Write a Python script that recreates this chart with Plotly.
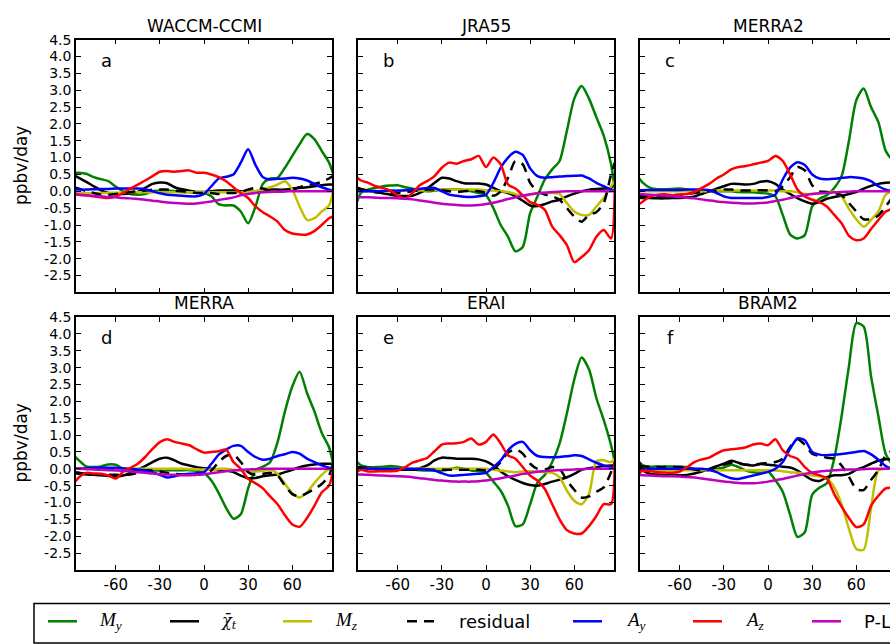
import plotly.graph_objects as go

# Latitude grid (degrees north) shared by every curve
LAT = [-87.5, -85, -80, -75, -70, -65, -60, -55, -50, -45, -40, -35, -30, -25, -20,
       -15, -10, -5, 0, 5, 10, 15, 20, 25, 30, 35, 40, 45, 50, 55, 60, 65, 70, 75,
       80, 85, 87.5]

# ---- WACCM-CCMI ----
MY_A = [0.55, 0.55, 0.52, 0.42, 0.36, 0.30, 0.14, 0.00, -0.08, -0.10, -0.08, 0.00, 0.02, 0.02, 0.00, -0.02, -0.03, -0.04, -0.05, -0.15, -0.38, -0.42, -0.42, -0.60, -0.95, -0.45, 0.22, 0.38, 0.40, 0.70, 1.05, 1.40, 1.70, 1.55, 1.20, 0.85, 0.55]
CHI_A = [0.45, 0.40, 0.28, 0.15, 0.03, -0.05, -0.08, -0.08, -0.06, -0.02, 0.10, 0.22, 0.26, 0.24, 0.12, 0.06, 0.02, -0.02, -0.02, 0.00, 0.02, 0.02, 0.02, 0.00, -0.02, 0.00, 0.02, 0.05, 0.05, 0.05, 0.08, 0.10, 0.12, 0.15, 0.18, 0.20, 0.20]
MZ_A = [-0.05, -0.05, -0.05, -0.05, -0.05, -0.05, -0.04, -0.04, -0.03, -0.03, -0.03, -0.03, -0.03, -0.03, -0.03, -0.03, -0.03, -0.03, -0.03, -0.03, -0.03, -0.03, -0.03, -0.03, -0.02, 0.00, 0.05, 0.12, 0.20, 0.30, 0.05, -0.45, -0.85, -0.80, -0.60, -0.42, -0.05]
RES_A = [0.10, 0.08, 0.00, -0.05, -0.10, -0.10, -0.08, -0.05, -0.02, 0.00, 0.02, 0.05, 0.05, 0.05, 0.02, 0.00, -0.02, -0.05, -0.05, -0.05, -0.08, -0.05, -0.05, -0.02, 0.05, 0.10, 0.08, 0.02, 0.00, 0.00, 0.05, 0.12, 0.18, 0.22, 0.28, 0.38, 0.45]
AY_A = [0.05, 0.05, 0.05, 0.06, 0.07, 0.07, 0.08, 0.08, 0.08, 0.08, 0.06, 0.00, -0.06, -0.10, -0.12, -0.13, -0.15, -0.15, -0.08, 0.15, 0.38, 0.43, 0.50, 0.85, 1.25, 0.78, 0.42, 0.35, 0.37, 0.38, 0.40, 0.38, 0.32, 0.22, 0.12, 0.05, 0.03]
AZ_A = [-0.08, -0.10, -0.12, -0.15, -0.18, -0.20, -0.15, -0.05, 0.08, 0.20, 0.32, 0.45, 0.58, 0.60, 0.58, 0.60, 0.62, 0.55, 0.55, 0.50, 0.42, 0.30, 0.12, -0.05, -0.20, -0.45, -0.62, -0.75, -0.90, -1.15, -1.25, -1.28, -1.28, -1.18, -1.00, -0.80, -0.75]
PL_A = [-0.10, -0.10, -0.12, -0.14, -0.15, -0.17, -0.18, -0.20, -0.21, -0.23, -0.25, -0.28, -0.30, -0.33, -0.35, -0.36, -0.37, -0.36, -0.33, -0.30, -0.26, -0.22, -0.18, -0.12, -0.08, -0.05, -0.03, -0.02, -0.01, 0.00, 0.00, 0.00, 0.00, 0.00, 0.00, 0.00, 0.00]

# ---- JRA55 ----
MY_B = [-0.30, -0.05, 0.05, 0.10, 0.15, 0.17, 0.18, 0.12, 0.08, 0.03, 0.00, 0.02, 0.05, 0.06, 0.06, 0.04, 0.00, -0.05, -0.12, -0.50, -1.00, -1.35, -1.78, -1.65, -0.65, -0.15, 0.35, 0.65, 0.90, 1.80, 2.75, 3.12, 2.75, 2.20, 1.65, 0.80, 0.05]
CHI_B = [0.10, 0.07, 0.02, -0.02, -0.06, -0.10, -0.13, -0.14, -0.13, -0.05, 0.08, 0.25, 0.40, 0.38, 0.30, 0.24, 0.23, 0.23, 0.20, 0.10, 0.00, -0.05, -0.15, -0.28, -0.42, -0.44, -0.38, -0.30, -0.25, -0.15, -0.07, 0.00, 0.05, 0.07, 0.08, 0.10, 0.30]
MZ_B = [0.00, 0.00, 0.00, 0.00, 0.00, 0.00, 0.00, 0.02, 0.02, 0.02, 0.03, 0.04, 0.05, 0.05, 0.05, 0.05, 0.05, 0.05, 0.03, 0.02, 0.00, -0.02, -0.08, -0.13, -0.10, -0.05, -0.05, -0.05, -0.08, -0.35, -0.60, -0.70, -0.70, -0.45, -0.20, 0.15, 0.30]
RES_B = [0.10, 0.05, 0.00, -0.03, -0.05, -0.05, -0.05, -0.03, 0.00, 0.03, 0.05, 0.05, 0.03, 0.00, -0.02, 0.00, 0.02, 0.00, -0.05, -0.13, 0.00, 0.40, 0.90, 0.80, 0.25, 0.00, -0.10, -0.15, -0.25, -0.50, -0.75, -0.90, -0.70, -0.62, -0.35, 0.50, 0.85]
AY_B = [0.00, 0.00, 0.00, 0.00, 0.01, 0.02, 0.02, 0.03, 0.05, 0.07, 0.10, 0.10, 0.00, -0.10, -0.13, -0.16, -0.17, -0.15, -0.10, 0.25, 0.70, 1.00, 1.17, 1.08, 0.68, 0.45, 0.40, 0.42, 0.44, 0.45, 0.46, 0.47, 0.38, 0.25, 0.15, 0.05, 0.00]
AZ_B = [0.40, 0.32, 0.25, 0.15, 0.10, 0.02, -0.12, -0.22, -0.05, 0.18, 0.30, 0.45, 0.70, 0.85, 0.82, 0.90, 0.95, 1.05, 0.72, 1.00, 0.80, 0.20, 0.08, -0.12, -0.32, -0.40, -0.55, -1.05, -1.30, -1.60, -2.10, -1.95, -1.75, -1.35, -1.15, -1.40, 0.00]
PL_B = [-0.18, -0.18, -0.18, -0.19, -0.20, -0.20, -0.21, -0.22, -0.24, -0.27, -0.30, -0.34, -0.37, -0.39, -0.41, -0.42, -0.42, -0.41, -0.38, -0.34, -0.29, -0.23, -0.18, -0.13, -0.09, -0.06, -0.04, -0.02, -0.01, 0.00, 0.00, 0.00, 0.00, 0.00, 0.00, 0.00, 0.00]

# ---- MERRA2 ----
MY_C = [0.38, 0.25, 0.10, 0.06, 0.06, 0.07, 0.08, 0.05, 0.02, 0.00, 0.00, 0.00, 0.00, 0.00, -0.02, -0.03, -0.03, -0.05, -0.07, -0.15, -0.70, -1.28, -1.40, -1.30, -0.45, -0.22, -0.12, 0.10, 0.45, 1.50, 2.70, 3.05, 2.50, 2.05, 1.20, 0.90, 0.80]
CHI_C = [-0.20, -0.20, -0.20, -0.21, -0.21, -0.20, -0.20, -0.18, -0.15, -0.08, 0.00, 0.08, 0.15, 0.22, 0.22, 0.20, 0.22, 0.28, 0.30, 0.22, 0.05, -0.08, -0.20, -0.30, -0.37, -0.32, -0.22, -0.17, -0.13, -0.08, -0.02, 0.08, 0.16, 0.22, 0.25, 0.26, 0.26]
MZ_C = [0.00, 0.00, 0.00, 0.00, 0.00, 0.00, 0.00, 0.00, 0.00, 0.00, 0.00, 0.02, 0.02, 0.02, 0.02, 0.02, 0.02, 0.02, 0.02, 0.02, 0.00, 0.00, -0.03, -0.08, -0.08, -0.06, -0.03, -0.02, -0.15, -0.52, -0.83, -1.05, -0.85, -0.60, -0.10, 0.00, 0.00]
RES_C = [-0.12, -0.15, -0.17, -0.17, -0.15, -0.12, -0.10, -0.08, -0.05, -0.02, 0.00, 0.02, 0.05, 0.05, 0.03, 0.02, 0.03, 0.03, 0.02, 0.00, 0.15, 0.42, 0.72, 0.62, 0.18, 0.00, -0.02, -0.05, -0.12, -0.35, -0.60, -0.83, -0.82, -0.72, -0.45, -0.15, 0.00]
AY_C = [0.03, 0.03, 0.04, 0.04, 0.04, 0.04, 0.04, 0.05, 0.05, 0.05, 0.03, -0.05, -0.15, -0.20, -0.20, -0.20, -0.20, -0.20, -0.17, -0.10, 0.35, 0.70, 0.86, 0.78, 0.50, 0.38, 0.36, 0.37, 0.40, 0.42, 0.41, 0.38, 0.30, 0.15, 0.05, 0.00, 0.00]
AZ_C = [-0.38, -0.30, -0.15, -0.10, -0.09, -0.12, -0.10, -0.08, -0.02, 0.10, 0.22, 0.38, 0.50, 0.65, 0.72, 0.75, 0.80, 0.85, 0.90, 1.05, 0.90, 0.50, 0.05, -0.15, -0.25, -0.32, -0.45, -0.70, -0.95, -1.32, -1.45, -1.40, -1.12, -0.85, -0.60, -0.50, -0.40]
PL_C = [-0.08, -0.09, -0.10, -0.12, -0.13, -0.15, -0.17, -0.19, -0.21, -0.24, -0.27, -0.30, -0.32, -0.34, -0.35, -0.36, -0.36, -0.35, -0.33, -0.29, -0.25, -0.20, -0.15, -0.11, -0.08, -0.06, -0.04, -0.03, -0.02, -0.01, 0.00, 0.00, 0.00, 0.00, 0.00, 0.00, 0.00]

# ---- MERRA ----
MY_D = [0.35, 0.25, 0.07, 0.05, 0.07, 0.13, 0.12, 0.00, -0.06, -0.07, -0.06, -0.05, -0.05, -0.04, -0.04, -0.04, -0.04, -0.06, -0.12, -0.35, -0.72, -1.16, -1.48, -1.35, -0.58, -0.04, 0.06, 0.20, 0.79, 1.70, 2.44, 2.88, 2.25, 1.71, 1.07, 0.64, 0.20]
CHI_D = [-0.14, -0.15, -0.17, -0.18, -0.19, -0.21, -0.23, -0.20, -0.12, -0.02, 0.08, 0.20, 0.30, 0.33, 0.25, 0.15, 0.10, 0.05, 0.02, 0.00, -0.02, -0.05, -0.10, -0.20, -0.28, -0.27, -0.22, -0.19, -0.17, -0.10, -0.03, 0.05, 0.10, 0.13, 0.15, 0.15, 0.15]
MZ_D = [0.00, 0.00, 0.00, 0.00, 0.00, 0.00, 0.00, 0.00, 0.00, 0.00, 0.00, 0.00, 0.00, 0.00, 0.00, 0.00, -0.01, -0.02, -0.02, -0.02, 0.00, 0.00, -0.03, -0.06, -0.08, -0.08, -0.06, -0.02, -0.15, -0.45, -0.72, -0.85, -0.70, -0.42, -0.18, 0.00, 0.02]
RES_D = [-0.10, -0.12, -0.15, -0.17, -0.18, -0.18, -0.18, -0.18, -0.17, -0.12, -0.05, -0.05, -0.08, -0.12, -0.15, -0.17, -0.18, -0.18, -0.15, -0.05, 0.20, 0.38, 0.42, 0.20, -0.10, -0.18, -0.15, -0.12, -0.20, -0.50, -0.75, -0.82, -0.72, -0.60, -0.45, -0.20, 0.15]
AY_D = [0.00, 0.00, 0.02, 0.03, 0.03, 0.03, 0.03, 0.02, 0.00, -0.02, -0.05, -0.10, -0.18, -0.26, -0.22, -0.17, -0.15, -0.13, -0.10, 0.15, 0.42, 0.57, 0.68, 0.68, 0.50, 0.35, 0.27, 0.30, 0.38, 0.43, 0.50, 0.45, 0.30, 0.20, 0.10, 0.03, 0.00]
AZ_D = [-0.38, -0.25, -0.12, -0.14, -0.15, -0.20, -0.29, -0.09, 0.03, 0.15, 0.35, 0.59, 0.79, 0.88, 0.80, 0.75, 0.70, 0.58, 0.48, 0.50, 0.52, 0.57, 0.20, 0.00, -0.30, -0.43, -0.58, -0.82, -1.05, -1.38, -1.65, -1.72, -1.46, -1.10, -0.70, -0.50, -0.10]
PL_D = [0.00, 0.00, -0.01, -0.02, -0.03, -0.04, -0.05, -0.06, -0.08, -0.10, -0.12, -0.14, -0.16, -0.17, -0.18, -0.19, -0.19, -0.18, -0.16, -0.13, -0.10, -0.07, -0.05, -0.03, -0.02, -0.01, 0.00, 0.00, 0.00, 0.00, 0.00, 0.00, 0.00, 0.00, 0.00, 0.00, 0.00]

# ---- ERAI ----
MY_E = [0.20, 0.10, 0.05, 0.05, 0.06, 0.08, 0.06, 0.02, -0.02, -0.04, -0.05, -0.05, -0.05, -0.02, 0.03, 0.00, -0.05, -0.07, -0.12, -0.38, -0.65, -1.10, -1.70, -1.65, -1.05, -0.40, -0.18, 0.20, 0.75, 1.65, 2.65, 3.30, 2.95, 2.10, 1.45, 0.70, 0.20]
CHI_E = [0.05, 0.04, 0.03, 0.02, 0.00, 0.00, -0.02, -0.03, -0.02, 0.02, 0.10, 0.25, 0.33, 0.32, 0.30, 0.30, 0.30, 0.28, 0.22, 0.10, -0.08, -0.22, -0.33, -0.42, -0.48, -0.50, -0.45, -0.38, -0.32, -0.25, -0.15, -0.03, 0.02, 0.05, 0.08, 0.10, 0.10]
MZ_E = [0.00, 0.00, 0.00, 0.00, 0.00, 0.00, 0.00, 0.00, 0.00, 0.00, 0.00, 0.00, 0.00, 0.00, 0.00, 0.00, 0.00, 0.00, 0.00, -0.03, -0.05, -0.08, -0.10, -0.08, -0.07, -0.08, -0.10, -0.12, -0.25, -0.65, -0.95, -1.05, -0.75, 0.22, 0.25, 0.20, 0.30]
RES_E = [0.05, 0.03, 0.00, -0.02, -0.03, -0.03, -0.03, -0.03, -0.03, -0.03, -0.03, -0.03, -0.03, -0.03, -0.03, -0.03, -0.03, -0.03, -0.05, 0.00, 0.20, 0.48, 0.58, 0.45, 0.15, 0.00, -0.02, 0.05, 0.00, -0.35, -0.62, -0.85, -0.82, -0.68, -0.55, -0.10, 0.20]
AY_E = [0.00, 0.00, 0.00, 0.00, 0.00, 0.00, 0.00, 0.00, 0.00, -0.01, -0.02, -0.05, -0.13, -0.20, -0.20, -0.18, -0.16, -0.15, -0.12, 0.05, 0.25, 0.55, 0.74, 0.80, 0.55, 0.38, 0.35, 0.34, 0.35, 0.37, 0.40, 0.38, 0.28, 0.18, 0.10, 0.05, 0.02]
AZ_E = [-0.09, -0.03, -0.08, -0.08, -0.07, -0.07, -0.05, 0.05, 0.18, 0.25, 0.32, 0.52, 0.72, 0.75, 0.76, 0.80, 0.90, 0.72, 0.80, 1.02, 0.75, 0.40, 0.30, 0.05, -0.20, -0.35, -0.60, -1.05, -1.50, -1.82, -1.92, -1.92, -1.70, -1.40, -1.05, -1.05, 0.20]
PL_E = [-0.17, -0.17, -0.18, -0.19, -0.20, -0.21, -0.22, -0.23, -0.25, -0.28, -0.30, -0.33, -0.35, -0.37, -0.38, -0.38, -0.38, -0.37, -0.35, -0.32, -0.28, -0.24, -0.20, -0.15, -0.12, -0.09, -0.07, -0.05, -0.04, -0.03, -0.02, -0.01, 0.00, 0.00, 0.00, 0.00, 0.00]

# ---- BRAM2 ----
MY_F = [0.20, 0.10, 0.06, 0.07, 0.07, 0.07, 0.06, 0.05, 0.00, -0.04, -0.04, 0.00, 0.04, 0.12, 0.05, -0.05, -0.10, -0.12, -0.08, -0.34, -0.68, -1.36, -2.02, -1.88, -0.77, -0.56, -0.43, 0.30, 1.56, 3.05, 4.32, 4.22, 2.75, 1.56, 0.44, 0.10, 0.00]
CHI_F = [0.20, -0.05, -0.15, -0.17, -0.19, -0.19, -0.19, -0.18, -0.14, -0.08, 0.00, 0.08, 0.15, 0.24, 0.18, 0.12, 0.10, 0.14, 0.12, 0.10, 0.06, 0.04, -0.05, -0.20, -0.33, -0.36, -0.25, -0.19, -0.19, -0.15, -0.03, 0.05, 0.15, 0.24, 0.28, 0.28, 0.28]
MZ_F = [-0.05, -0.05, -0.05, -0.04, -0.04, -0.04, -0.04, -0.04, -0.04, -0.04, -0.04, -0.04, -0.04, -0.04, -0.04, -0.04, -0.04, -0.04, -0.05, -0.05, -0.07, -0.10, -0.12, -0.15, -0.20, -0.22, -0.29, -0.55, -1.05, -1.78, -2.38, -2.40, -1.17, -0.05, 0.00, 0.00, 0.00]
RES_F = [0.08, 0.07, 0.06, 0.05, 0.05, 0.05, 0.05, 0.03, -0.02, -0.05, -0.03, 0.05, 0.12, 0.18, 0.15, 0.12, 0.13, 0.15, 0.18, 0.20, 0.30, 0.65, 0.88, 0.72, 0.45, 0.38, 0.33, 0.30, 0.10, -0.24, -0.60, -0.63, -0.33, -0.04, 0.40, 0.55, 0.60]
AY_F = [-0.05, -0.03, 0.00, 0.00, 0.00, 0.00, 0.00, 0.00, 0.00, 0.00, -0.03, -0.10, -0.20, -0.28, -0.30, -0.25, -0.20, -0.15, -0.09, 0.00, 0.20, 0.59, 0.90, 0.85, 0.50, 0.42, 0.40, 0.42, 0.44, 0.47, 0.50, 0.53, 0.43, 0.27, 0.08, 0.00, 0.00]
AZ_F = [-0.14, -0.05, -0.07, -0.10, -0.11, -0.12, -0.08, 0.05, 0.20, 0.28, 0.33, 0.45, 0.55, 0.58, 0.60, 0.64, 0.72, 0.75, 0.70, 0.88, 0.55, 0.38, 0.30, 0.05, -0.12, -0.19, -0.29, -0.75, -1.12, -1.46, -1.73, -1.65, -1.10, -0.80, -0.58, -0.55, -0.50]
PL_F = [-0.18, -0.19, -0.20, -0.21, -0.22, -0.22, -0.23, -0.24, -0.26, -0.29, -0.32, -0.35, -0.38, -0.40, -0.42, -0.43, -0.43, -0.41, -0.38, -0.34, -0.30, -0.25, -0.20, -0.15, -0.11, -0.08, -0.06, -0.04, -0.03, -0.02, -0.02, -0.01, 0.00, 0.00, 0.00, 0.00, 0.00]

PANEL_TITLES = ["WACCM-CCMI", "JRA55", "MERRA2", "MERRA", "ERAI", "BRAM2"]
PANEL_LETTERS = ["a", "b", "c", "d", "e", "f"]
PANEL_DATA = [
    [MY_A, CHI_A, MZ_A, RES_A, AY_A, AZ_A, PL_A],
    [MY_B, CHI_B, MZ_B, RES_B, AY_B, AZ_B, PL_B],
    [MY_C, CHI_C, MZ_C, RES_C, AY_C, AZ_C, PL_C],
    [MY_D, CHI_D, MZ_D, RES_D, AY_D, AZ_D, PL_D],
    [MY_E, CHI_E, MZ_E, RES_E, AY_E, AZ_E, PL_E],
    [MY_F, CHI_F, MZ_F, RES_F, AY_F, AZ_F, PL_F],
]

SERIES_LABELS = ["<i>M<sub>y</sub></i>", "<i>\u03c7\u0304<sub>t</sub></i>", "<i>M<sub>z</sub></i>",
                 "residual", "<i>A<sub>y</sub></i>", "<i>A<sub>z</sub></i>", "P-L"]
SERIES_FONT = ["Liberation Serif", "DejaVu Serif", "Liberation Serif", "DejaVu Sans",
               "Liberation Serif", "Liberation Serif", "DejaVu Sans"]
SERIES_FONT_SIZE = [19, 16, 19, 18, 19, 19, 18]
SERIES_COLORS = ["#008000", "#000000", "#bfbf00", "#000000", "#0000ff", "#ff0000", "#bf00bf"]
SERIES_DASH = ["solid", "solid", "solid", "10px,7px", "solid", "solid", "solid"]

Y_TICKS = [-2.5, -2.0, -1.5, -1.0, -0.5, 0.0, 0.5, 1.0, 1.5, 2.0, 2.5, 3.0, 3.5, 4.0, 4.5]
Y_TICKTEXT = ["-2.5", "-2.0", "-1.5", "-1.0", "-0.5", "0.0", "0.5", "1.0", "1.5", "2.0",
              "2.5", "3.0", "3.5", "4.0", "4.5"]
X_TICKS = [-60, -30, 0, 30, 60]
X_TICKTEXT = ["-60", "-30", "0", "30", "60"]

# ---- page geometry (pixels) ----
W, H = 890, 644
COL_PX = [(76, 332), (358, 614), (640, 890)]
COL_CENTER = [204, 486, 768]
ROW_PX = [(32, 288), (313, 569)]
X_RANGES = [(-87, 87), (-87, 87), (-87, 82.9)]

SANS = "DejaVu Sans"


def fx(p):
    return p / W


def fy(p):
    return 1 - p / H


fig = go.Figure()
layout = dict(
    width=W, height=H,
    margin=dict(l=0, r=0, t=0, b=0),
    paper_bgcolor="white", plot_bgcolor="white",
    showlegend=False,
    font=dict(family=SANS, size=15, color="black"),
)
annotations = []
shapes = []

for i in range(6):
    row, col = divmod(i, 3)
    suffix = "" if i == 0 else str(i + 1)
    xref, yref = "x" + suffix, "y" + suffix

    for k, values in enumerate(PANEL_DATA[i]):
        fig.add_trace(go.Scatter(
            x=LAT, y=values, mode="lines",
            line=dict(color=SERIES_COLORS[k], width=2.5, dash=SERIES_DASH[k],
                      shape="spline", smoothing=0.7),
            xaxis=xref, yaxis=yref, hoverinfo="skip", showlegend=False,
        ))

    x0, x1 = COL_PX[col]
    y0, y1 = ROW_PX[row]
    layout["xaxis" + suffix] = dict(
        domain=[fx(x0), fx(x1)], range=list(X_RANGES[col]), anchor=yref,
        showline=True, linecolor="black", linewidth=1.5, mirror="ticks",
        ticks="inside", ticklen=5, tickwidth=1, tickcolor="black",
        tickvals=X_TICKS, ticktext=X_TICKTEXT, showticklabels=(row == 1),
        tickfont=dict(family=SANS, size=15, color="black"),
        showgrid=False, zeroline=False, fixedrange=True,
    )
    layout["yaxis" + suffix] = dict(
        domain=[fy(y1), fy(y0)], range=[-3.0, 4.5], anchor=xref,
        showline=True, linecolor="black", linewidth=1.5,
        mirror=("ticks" if col < 2 else False),
        ticks="inside", ticklen=5, tickwidth=1, tickcolor="black",
        tickvals=Y_TICKS, ticktext=Y_TICKTEXT, showticklabels=(col == 0),
        tickfont=dict(family=SANS, size=14, color="black"),
        showgrid=False, zeroline=False, fixedrange=True,
    )

    # panel title above each frame
    annotations.append(dict(
        text=PANEL_TITLES[i], x=fx(COL_CENTER[col]), y=fy(y0 - 14),
        xref="paper", yref="paper", showarrow=False,
        xanchor="center", yanchor="middle",
        font=dict(family=SANS, size=17, color="black"),
    ))
    # panel letter in the upper-left corner
    annotations.append(dict(
        text=PANEL_LETTERS[i], x=fx(x0 + 30), y=fy(y0 + 21),
        xref="paper", yref="paper", showarrow=False,
        xanchor="center", yanchor="middle",
        font=dict(family=SANS, size=18, color="black"),
    ))

# y-axis titles
for row in range(2):
    y0, y1 = ROW_PX[row]
    annotations.append(dict(
        text="ppbv/day", x=fx(21), y=fy((y0 + y1) / 2),
        xref="paper", yref="paper", showarrow=False, textangle=-90,
        xanchor="center", yanchor="middle",
        font=dict(family=SANS, size=17, color="black"),
    ))

# legend box along the bottom
shapes.append(dict(type="rect", xref="paper", yref="paper",
                   x0=fx(34), x1=fx(905), y0=fy(643), y1=fy(603),
                   line=dict(color="black", width=1.5), fillcolor="rgba(0,0,0,0)"))
LEG_LINE_X = [48, 170, 283, 407, 573, 693, 812]
LEG_TEXT_X = [97, 219, 333, 457, 624, 743, 862]
LEG_Y = 621
for k in range(7):
    shapes.append(dict(type="line", xref="paper", yref="paper",
                       x0=fx(LEG_LINE_X[k]), x1=fx(LEG_LINE_X[k] + 29),
                       y0=fy(LEG_Y), y1=fy(LEG_Y),
                       line=dict(color=SERIES_COLORS[k], width=2.5, dash=SERIES_DASH[k])))
    annotations.append(dict(
        text=SERIES_LABELS[k], x=fx(LEG_TEXT_X[k]), y=fy(LEG_Y),
        xref="paper", yref="paper", showarrow=False,
        xanchor="left", yanchor="middle",
        font=dict(family=SERIES_FONT[k], size=SERIES_FONT_SIZE[k], color="black"),
    ))

layout["annotations"] = annotations
layout["shapes"] = shapes
fig.update_layout(**layout)
fig.write_html("out.html")
